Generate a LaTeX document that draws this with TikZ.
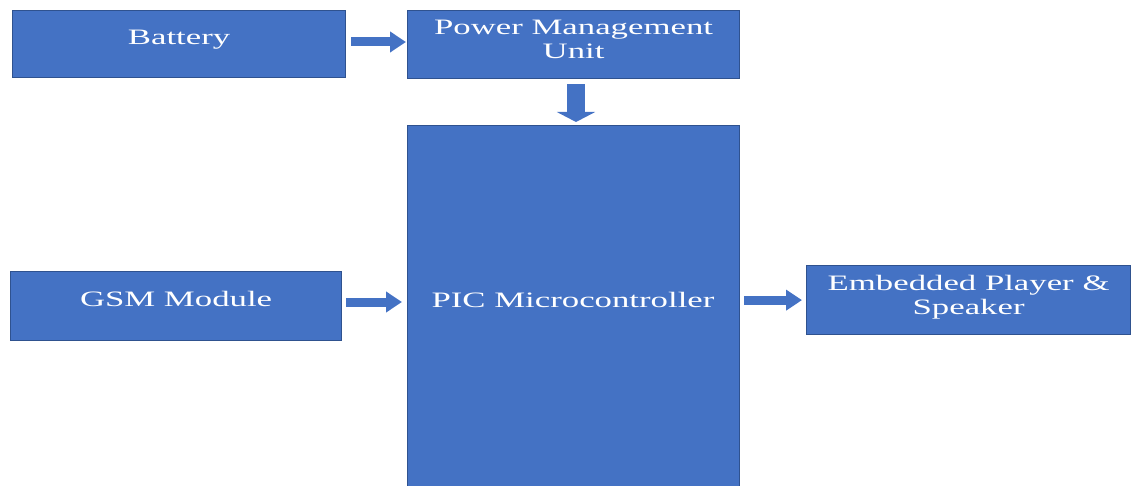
\documentclass[tikz,border=0pt]{standalone}
\usepackage{fontspec}
\setmainfont{Liberation Serif}[FakeStretch=1.58]
\usetikzlibrary{arrows.meta}

\definecolor{blockblue}{HTML}{4472C4}
\definecolor{blockedge}{HTML}{2F528F}

\begin{document}
\begin{tikzpicture}[x=1pt, y=-1pt,
  block/.style={draw=blockedge, line width=1.2pt, fill=blockblue,
    anchor=north west, inner sep=0pt},
  blocktext/.style={text=white, align=center, inner sep=0pt,
    font=\fontsize{22}{24}\selectfont},
  flowarrow/.style={blockblue, line width=9pt,
    -{Triangle[length=16pt, width=20pt]}},
  downarrow/.style={blockblue, line width=18pt,
    -{Triangle[length=10pt, width=38pt]}}
]

%% --- frame ---
\useasboundingbox (0,0) rectangle (1131,486);
\clip (0,0) rectangle (1131,486);

%% --- blocks ---
\node[block, minimum width=333pt, minimum height=67pt] (battery) at (12,10) {};
\node[block, minimum width=332pt, minimum height=68pt] (pmu) at (407,10) {};
\node[block, minimum width=332pt, minimum height=420pt] (pic) at (407,125) {};
\node[block, minimum width=331pt, minimum height=69pt] (gsm) at (10,271) {};
\node[block, minimum width=324pt, minimum height=69pt] (player) at (806,265) {};

%% --- block texts ---
\node[blocktext, yshift=4pt] (batterytext) at (battery) {Battery};
\node[blocktext, yshift=5pt] (pmutext) at (pmu) {Power Management\\Unit};
\node[blocktext] (pictext) at (573,300) {PIC Microcontroller};
\node[blocktext, yshift=7pt] (gsmtext) at (gsm) {GSM Module};
\node[blocktext, yshift=3pt] (playertext) at (player)
  {Embedded Player \&\\Speaker};

%% --- connectors ---
\draw[flowarrow, shorten <=5pt, shorten >=1pt] (battery.east |- 0,42)
  -- (pmu.west |- 0,42);
\draw[downarrow, shorten <=5pt, shorten >=3pt] (pmu.south -| 576,0)
  -- (pic.north -| 576,0);
\draw[flowarrow, shorten <=4pt, shorten >=5pt] (gsm.east |- 0,302)
  -- (pic.west |- 0,302);
\draw[flowarrow, shorten <=4pt, shorten >=4pt] (pic.east |- player.west)
  -- (player.west);

\end{tikzpicture}
\end{document}
